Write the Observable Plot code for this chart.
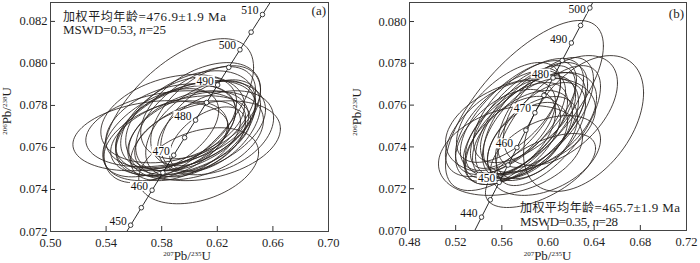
<!DOCTYPE html>
<html><head><meta charset="utf-8">
<script src="https://cdn.jsdelivr.net/npm/d3@7"></script>
<script src="https://cdn.jsdelivr.net/npm/@observablehq/plot@0.6"></script>
<style>
body{margin:0;background:#fff;}
#wrap{display:flex;width:700px;height:263px;overflow:hidden;}
</style></head><body><div id="wrap"></div>
<script>
// U-Pb decay constants (per year) defining the concordia curve
const LAMBDA238 = 1.55125e-10, LAMBDA235 = 9.8485e-10;

// Error ellipses: [207Pb/235U, 206Pb/238U, half-width x, half-width y, rho]
const ellipsesA = [
  [0.5922,0.07775,0.0539,0.00343,0.60],
  [0.6130,0.07632,0.0524,0.00190,0.30],
  [0.6066,0.07513,0.0431,0.00181,0.35],
  [0.5721,0.07656,0.0560,0.00167,0.25],
  [0.5829,0.07689,0.0575,0.00181,0.30],
  [0.6044,0.07737,0.0431,0.00248,0.55],
  [0.5972,0.07703,0.0503,0.00214,0.45],
  [0.6008,0.07727,0.0467,0.00238,0.40],
  [0.5901,0.07680,0.0431,0.00214,0.45],
  [0.6080,0.07689,0.0395,0.00229,0.50],
  [0.5936,0.07656,0.0503,0.00190,0.40],
  [0.5865,0.07703,0.0467,0.00200,0.35],
  [0.6116,0.07751,0.0395,0.00238,0.50],
  [0.5994,0.07670,0.0431,0.00200,0.40],
  [0.5922,0.07718,0.0417,0.00219,0.45],
  [0.6044,0.07656,0.0488,0.00210,0.35],
  [0.5829,0.07632,0.0445,0.00190,0.40],
  [0.6152,0.07703,0.0359,0.00219,0.45],
  [0.5972,0.07632,0.0395,0.00190,0.50],
  [0.6080,0.07775,0.0431,0.00229,0.45],
  [0.5879,0.07737,0.0517,0.00210,0.30],
  [0.6008,0.07689,0.0539,0.00229,0.40],
  [0.5793,0.07670,0.0417,0.00210,0.50],
  [0.6188,0.07670,0.0417,0.00200,0.35],
  [0.6130,0.07641,0.0273,0.00152,0.50]
];
const ellipsesB = [
  [0.5796,0.07598,0.0684,0.00407,0.70],
  [0.6308,0.07512,0.0520,0.00325,0.45],
  [0.6108,0.07574,0.0494,0.00263,0.50],
  [0.5762,0.07502,0.0650,0.00230,0.35],
  [0.5675,0.07383,0.0624,0.00215,0.30],
  [0.5935,0.07287,0.0477,0.00177,0.60],
  [0.5978,0.07359,0.0477,0.00191,0.40],
  [0.5762,0.07502,0.0477,0.00239,0.60],
  [0.5805,0.07526,0.0433,0.00263,0.65],
  [0.5718,0.07478,0.0451,0.00230,0.60],
  [0.5848,0.07488,0.0416,0.00239,0.55],
  [0.5675,0.07517,0.0477,0.00249,0.60],
  [0.5892,0.07536,0.0451,0.00268,0.60],
  [0.5779,0.07455,0.0433,0.00215,0.50],
  [0.5744,0.07550,0.0503,0.00263,0.65],
  [0.5935,0.07478,0.0390,0.00230,0.55],
  [0.5632,0.07455,0.0433,0.00220,0.50],
  [0.5831,0.07574,0.0477,0.00249,0.60],
  [0.5692,0.07431,0.0416,0.00211,0.55],
  [0.5866,0.07440,0.0390,0.00201,0.50],
  [0.5588,0.07488,0.0477,0.00230,0.55],
  [0.5978,0.07565,0.0416,0.00263,0.60],
  [0.5805,0.07488,0.0520,0.00268,0.65],
  [0.5718,0.07536,0.0390,0.00239,0.70],
  [0.5918,0.07517,0.0503,0.00239,0.50],
  [0.5658,0.07565,0.0451,0.00239,0.60],
  [0.5822,0.07431,0.0347,0.00182,0.50],
  [0.6004,0.07502,0.0451,0.00287,0.65]
];

// Concordia age markers (Ma)
const markAgesA = [450,455,460,465,470,475,480,485,490,495,500,505,510];
const labelAgesA = [450,460,470,480,490,500,510];
const markAgesB = [440,445,450,455,460,465,470,475,480,485,490,495,500,505];
const labelAgesB = [440,450,460,470,480,490,500];

// Axes
const xDomainA = [0.50, 0.70], yDomainA = [0.072, 0.0829];
const xTicksA = [0.50,0.54,0.58,0.62,0.66,0.70];
const yTicksA = [0.072,0.074,0.076,0.078,0.080,0.082];
const xDomainB = [0.48, 0.72], yDomainB = [0.070, 0.08091];
const xTicksB = [0.48,0.52,0.56,0.60,0.64,0.68,0.72];
const yTicksB = [0.070,0.072,0.074,0.076,0.078,0.080];

// Annotations
const panelNames = ["(a)", "(b)"];
const meanLabel = "加权平均年龄";
const meanAges = ["476.9±1.9 Ma", "465.7±1.9 Ma"];
const mswdValues = ["0.53", "0.35"];
const nValues = ["25", "28"];

const SERIF = "'Liberation Serif','Times New Roman',Times,serif";
const CJK = "'Noto Sans CJK SC','Noto Sans CJK JP',sans-serif";

function concordia(t) {
  return {x: Math.expm1(LAMBDA235 * t * 1e6), y: Math.expm1(LAMBDA238 * t * 1e6), age: t};
}
function ellipsePoints(list) {
  const pts = [];
  list.forEach((e, i) => {
    const [cx, cy, sx, sy, r] = e, q = Math.sqrt(1 - r * r);
    for (let k = 0; k <= 90; k++) {
      const t = k / 90 * 2 * Math.PI;
      pts.push({id: i, x: cx + sx * Math.cos(t), y: cy + sy * (r * Math.cos(t) + q * Math.sin(t))});
    }
  });
  return pts;
}
function curveAges() { const a = []; for (let t = 380; t <= 580; t += 2) a.push(t); return a; }

function rich(svg, x, y, parts, size, opts = {}) {
  const t = d3.select(svg).append("text")
    .attr("font-family", SERIF).attr("font-size", size).attr("fill", "#1e1e1e")
    .attr("text-anchor", opts.anchor || "start");
  if (opts.transform) t.attr("transform", opts.transform); else t.attr("x", x).attr("y", y);
  if (opts.length) t.attr("textLength", opts.length).attr("lengthAdjust", "spacing");
  let shift = 0;
  parts.forEach(p => {
    const ts = t.append("tspan").text(p.t);
    if (p.sup) { ts.attr("font-size", opts.supSize || 7).attr("dy", -4.5 - shift); shift = -4.5; }
    else if (shift) { ts.attr("dy", -shift); shift = 0; }
    if (p.cjk) ts.attr("font-family", CJK).attr("font-size", p.size || size);
    if (p.italic) ts.attr("font-style", "italic");
  });
  return t;
}

const panels = [
  {i: 0, ell: ellipsesA, marks: markAgesA, labels: labelAgesA, xd: xDomainA, yd: yDomainA, xt: xTicksA, yt: yTicksA,
   ml: 50, mr: 22, mb: 32, noteX: 63, noteY1: 20.5, noteY2: 34.3, len1: 163, len2: 103, tagX: 326, tagY: 15, xTitleX: 187},
  {i: 1, ell: ellipsesB, marks: markAgesB, labels: labelAgesB, xd: xDomainB, yd: yDomainB, xt: xTicksB, yt: yTicksB,
   ml: 59, mr: 14, mb: 33, noteX: 170, noteY1: 211.5, noteY2: 225.5, len1: 160, len2: 98, tagX: 334, tagY: 17.5, xTitleX: 197.5}
];

const wrap = document.getElementById("wrap");
for (const p of panels) {
  const W = 350, H = 263, mt = 2;
  const plotW = W - p.ml - p.mr, plotH = H - mt - p.mb;
  const conc = curveAges().map(concordia);
  const markers = p.marks.map(concordia);
  const labs = p.labels.map(a => ({...concordia(a), label: String(a)}));
  // labels that would run past the top of the frame sit level with their marker
  const nearTop = d => d.y > p.yd[1] - 0.0003;
  const fx = d3.format(".2f"), fy = d3.format(".3f");
  const svg = Plot.plot({
    width: W, height: H, marginLeft: p.ml, marginRight: p.mr, marginTop: mt, marginBottom: p.mb,
    style: {fontFamily: SERIF, fontSize: "12px", color: "#1e1e1e", background: "white"},
    x: {domain: p.xd, label: null},
    y: {domain: p.yd, label: null},
    marks: [
      Plot.line(ellipsePoints(p.ell), {x: "x", y: "y", z: "id", stroke: "#2a2320", strokeWidth: 0.85, clip: true}),
      Plot.line(conc, {x: "x", y: "y", stroke: "#111", strokeWidth: 0.9, clip: true}),
      Plot.dot(markers, {x: "x", y: "y", r: 2.3, fill: "white", stroke: "#111", strokeWidth: 0.8, clip: true}),
      Plot.text(labs.filter(d => !nearTop(d)), {x: "x", y: "y", text: "label", textAnchor: "end", dx: -4, dy: -4, fontSize: 11.5, fill: "#111"}),
      Plot.text(labs.filter(nearTop), {x: "x", y: "y", text: "label", textAnchor: "end", dx: -4, dy: 1, fontSize: 11.5, fill: "#111"}),
      Plot.ruleX(p.xt, {insetTop: plotH - 5, stroke: "#333"}),
      Plot.ruleY(p.yt, {insetRight: plotW - 5, stroke: "#333"}),
      Plot.axisX({ticks: p.xt, tickSize: 0, tickPadding: 7, tickFormat: fx, fontSize: 12.5}),
      Plot.axisY({ticks: p.yt, tickSize: 0, tickPadding: 3, tickFormat: fy, fontSize: 12.5}),
      Plot.frame({stroke: "#444"})
    ]
  });
  svg.style.display = "block";
  wrap.appendChild(svg);

  // white boxes behind concordia age labels
  d3.select(svg).selectAll('g[aria-label="text"] text').each(function() {
    try {
      const b = this.getBBox();
      const r = document.createElementNS("http://www.w3.org/2000/svg", "rect");
      r.setAttribute("x", b.x - 1); r.setAttribute("y", b.y + 1);
      r.setAttribute("width", b.width + 2); r.setAttribute("height", b.height - 2);
      r.setAttribute("fill", "white");
      const tr = this.getAttribute("transform");
      if (tr) r.setAttribute("transform", tr);
      this.parentNode.insertBefore(r, this);
    } catch (e) {}
  });

  // axis titles
  rich(svg, p.xTitleX, 260, [{t: "207", sup: true}, {t: "Pb/"}, {t: "235", sup: true}, {t: "U"}], 13, {anchor: "middle", supSize: 7});
  rich(svg, 0, 0, [{t: "206", sup: true}, {t: "Pb/"}, {t: "238", sup: true}, {t: "U"}], 13,
       {anchor: "middle", supSize: 7, transform: `translate(11,${p.i === 0 ? 111 : 112}) rotate(-90)`});
  // panel tag
  rich(svg, p.tagX, p.tagY, [{t: panelNames[p.i]}], 13, {anchor: "end"});
  // annotation
  rich(svg, p.noteX, p.noteY1, [{t: meanLabel, cjk: true, size: 12}, {t: "=" + meanAges[p.i]}], 13, {length: p.len1});
  rich(svg, p.noteX, p.noteY2, [{t: "MSWD=" + mswdValues[p.i] + ", "}, {t: "n", italic: true}, {t: "=" + nValues[p.i]}], 13, {length: p.len2});
}
</script>
</body></html>
